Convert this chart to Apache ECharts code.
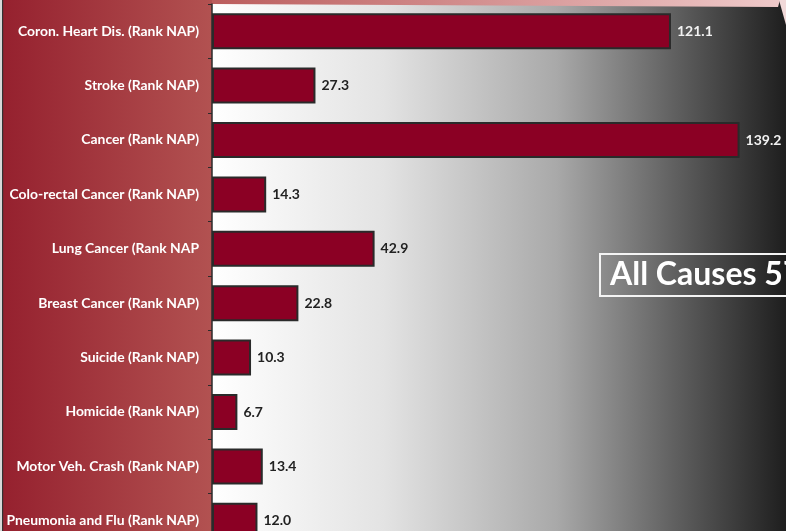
<!DOCTYPE html>
<html>
<head>
<meta charset="utf-8">
<script src="https://cdn.jsdelivr.net/npm/echarts@6/dist/echarts.min.js"></script>
<style>
  html, body { margin: 0; padding: 0; background: #ffffff; }
  #chart { width: 786px; height: 531px; }
</style>
</head>
<body>
<div id="chart"></div>
<script>
// Mortality rates by cause
const categories = [
  'Coron. Heart Dis. (Rank NAP)',
  'Stroke (Rank NAP)',
  'Cancer (Rank NAP)',
  'Colo-rectal Cancer (Rank NAP)',
  'Lung Cancer (Rank NAP',
  'Breast Cancer (Rank NAP)',
  'Suicide (Rank NAP)',
  'Homicide (Rank NAP)',
  'Motor Veh. Crash (Rank NAP)',
  'Pneumonia and Flu (Rank NAP)'
];
const rates = [121.1, 27.3, 139.2, 14.3, 42.9, 22.8, 10.3, 6.7, 13.4, 12.0];
const allCausesText = 'All Causes 57';

const X_MAX = 160;
const PX_PER_UNIT = 3.79;
const PLOT_LEFT = 212;
const PLOT_TOP = 4;
const BAND = 54.4;

const chart = echarts.init(document.getElementById('chart'), null, { renderer: 'canvas' });

const seriesData = rates.map(function (v) {
  const onDark = v > 100;
  return {
    value: v,
    label: { color: onDark ? '#f2f2f2' : '#222222' }
  };
});

chart.setOption({
  animation: false,
  backgroundColor: '#ffffff',
  grid: {
    left: PLOT_LEFT,
    top: PLOT_TOP,
    width: X_MAX * PX_PER_UNIT,
    height: BAND * categories.length,
    outerBoundsMode: 'none',
    containLabel: false
  },
  xAxis: {
    type: 'value',
    min: 0,
    max: X_MAX,
    show: false
  },
  yAxis: {
    type: 'category',
    data: categories,
    inverse: true,
    axisLine: { show: true, lineStyle: { color: '#2b2b2b', width: 1.5 } },
    axisTick: { show: true, length: 4, lineStyle: { color: '#2b2b2b', width: 1 } },
    axisLabel: {
      color: '#ffffff',
      fontFamily: 'Lato',
      fontWeight: 'bold',
      fontSize: 13.9,
      margin: 13
    },
    splitLine: { show: false }
  },
  graphic: [
    // left label panel
    {
      type: 'rect', z: -10, silent: true,
      shape: { x: 0, y: 0, width: PLOT_LEFT, height: 531 },
      style: {
        fill: new echarts.graphic.LinearGradient(0, 0, 1, 0, [
          { offset: 0, color: '#95202e' },
          { offset: 1, color: '#b25251' }
        ])
      }
    },
    // left frame edge
    {
      type: 'rect', z: -9, silent: true,
      shape: { x: 0, y: 0, width: 2, height: 531 },
      style: { fill: '#d8d8d8' }
    },
    {
      type: 'rect', z: -9, silent: true,
      shape: { x: 2, y: 0, width: 1.2, height: 531 },
      style: { fill: '#333333' }
    },
    // plot background, white to black
    {
      type: 'rect', z: -10, silent: true,
      shape: { x: PLOT_LEFT, y: 0, width: 786 - PLOT_LEFT, height: 531 },
      style: {
        fill: new echarts.graphic.LinearGradient(0, 0, 1, 0, [
          { offset: 0, color: '#ffffff' },
          { offset: 0.3, color: '#e3e3e3' },
          { offset: 0.6, color: '#a9a9a9' },
          { offset: 0.8, color: '#626262' },
          { offset: 1, color: '#1e1e1e' }
        ])
      }
    },
    // pink top frame strip
    {
      type: 'polygon', z: -8, silent: true,
      shape: { points: [[PLOT_LEFT, 0], [780, 0], [778, 7], [PLOT_LEFT, 4]] },
      style: {
        fill: new echarts.graphic.LinearGradient(0, 0, 1, 0, [
          { offset: 0, color: '#bb5d5d' },
          { offset: 1, color: '#efcaca' }
        ])
      }
    },
    // top-right corner
    {
      type: 'polygon', z: -8, silent: true,
      shape: { points: [[779, 0], [786, 0], [786, 25]] },
      style: { fill: '#f1d9d9' }
    },
    // all-causes callout
    {
      type: 'rect', z: 10, silent: true,
      shape: { x: 600, y: 254, width: 220, height: 42 },
      style: { fill: 'rgba(0,0,0,0)', stroke: '#f4f4f4', lineWidth: 2 }
    },
    {
      type: 'text', z: 11, silent: true,
      x: 610, y: 275,
      style: {
        text: allCausesText,
        fill: '#ffffff',
        font: 'bold 32px Lato',
        textVerticalAlign: 'middle'
      }
    }
  ],
  series: [{
    type: 'bar',
    data: seriesData,
    barWidth: 36,
    itemStyle: {
      color: '#8b0024',
      borderColor: '#2a2a2a',
      borderWidth: 2
    },
    label: {
      show: true,
      position: 'right',
      distance: 6,
      fontFamily: 'Lato',
      fontWeight: 'bold',
      fontSize: 14,
      formatter: function (p) { return p.value.toFixed(1); }
    }
  }]
});
</script>
</body>
</html>
